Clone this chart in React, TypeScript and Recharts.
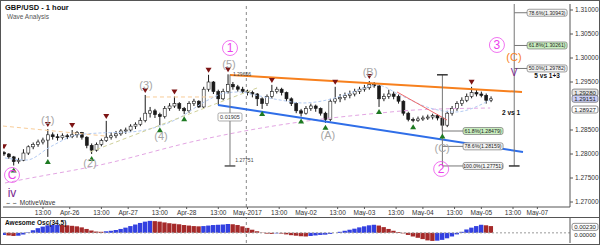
import {
  ComposedChart, Bar, Line, Scatter, XAxis, YAxis, ReferenceLine, ReferenceDot, Cell
} from 'recharts';

const FONT = '"Liberation Sans", Arial, sans-serif';

// hour index: 0 = Apr-26 00:00, weekend hours left out
const X_DOMAIN = [-27.4, 205.4];
const Y_DOMAIN = [1.26896, 1.31125];
const AO_DOMAIN = [-0.0039, 0.0057];

const timeTicks = [-11, 0, 13, 24, 37, 48, 61, 73, 86, 97, 110, 121, 134, 145, 158, 169, 182, 192];
const timeLabels = ['13:00', 'Apr-26', '13:00', 'Apr-27', '13:00', 'Apr-28', '13:00', 'May-2017', '13:00',
  'May-02', '13:00', 'May-03', '13:00', 'May-04', '13:00', 'May-05', '13:00', 'May-07'];
const priceTicks = [1.27, 1.275, 1.28, 1.285, 1.295, 1.3, 1.305, 1.31];

// [hour, open, high, low, close]
const candleRows = [
  [-27, 1.2803, 1.2806, 1.2796, 1.2800], [-25, 1.2800, 1.2802, 1.2790, 1.2794],
  [-23, 1.2794, 1.2796, 1.2776, 1.2784], [-21, 1.2784, 1.2792, 1.2780, 1.2787],
  [-19, 1.2787, 1.2810, 1.2785, 1.2802], [-17, 1.2802, 1.2818, 1.2798, 1.2815],
  [-15, 1.2815, 1.2824, 1.2810, 1.2820], [-13, 1.2820, 1.2830, 1.2815, 1.2825],
  [-11, 1.2825, 1.2834, 1.2820, 1.2829], [-9, 1.2829, 1.2852, 1.2794, 1.2840],
  [-7, 1.2840, 1.2845, 1.2830, 1.2836], [-5, 1.2836, 1.2842, 1.2828, 1.2834],
  [-3, 1.2834, 1.2843, 1.2830, 1.2838], [-1, 1.2838, 1.2842, 1.2831, 1.2836],
  [1, 1.2836, 1.2850, 1.2833, 1.2840], [3, 1.2840, 1.2848, 1.2834, 1.2845],
  [5, 1.2845, 1.2846, 1.2830, 1.2835], [7, 1.2835, 1.2837, 1.2812, 1.2818],
  [9, 1.2818, 1.2822, 1.2800, 1.2808], [11, 1.2808, 1.2824, 1.2805, 1.2820],
  [13, 1.2820, 1.2832, 1.2816, 1.2828], [15, 1.2828, 1.2869, 1.2825, 1.2835],
  [17, 1.2835, 1.2845, 1.2830, 1.2838], [19, 1.2838, 1.2848, 1.2833, 1.2842],
  [21, 1.2842, 1.2852, 1.2838, 1.2848], [23, 1.2848, 1.2855, 1.2842, 1.2850],
  [25, 1.2850, 1.2862, 1.2846, 1.2858], [27, 1.2858, 1.2866, 1.2852, 1.2862],
  [29, 1.2862, 1.2876, 1.2858, 1.2870], [31, 1.2870, 1.2923, 1.2866, 1.2885],
  [33, 1.2885, 1.2898, 1.2876, 1.2890], [35, 1.2890, 1.2894, 1.2875, 1.2882],
  [37, 1.2882, 1.2886, 1.2860, 1.2878], [39, 1.2878, 1.2900, 1.2874, 1.2895],
  [41, 1.2895, 1.2906, 1.2890, 1.2900], [43, 1.2900, 1.2920, 1.2896, 1.2905],
  [45, 1.2905, 1.2908, 1.2890, 1.2895], [47, 1.2895, 1.2898, 1.2883, 1.2890],
  [49, 1.2890, 1.2910, 1.2886, 1.2905], [51, 1.2905, 1.2915, 1.2900, 1.2910],
  [53, 1.2910, 1.2912, 1.2896, 1.2898], [55, 1.2898, 1.2940, 1.2896, 1.2935],
  [57, 1.2935, 1.2965, 1.2930, 1.2950], [59, 1.2950, 1.2952, 1.2925, 1.2930],
  [61, 1.2930, 1.2934, 1.2902, 1.2915], [63, 1.2915, 1.2936, 1.2912, 1.2930],
  [65, 1.2930, 1.2966, 1.2926, 1.2945], [67, 1.2945, 1.2950, 1.2934, 1.2940],
  [69, 1.2940, 1.2944, 1.2930, 1.2935], [71, 1.2935, 1.2940, 1.2926, 1.2930],
  [73, 1.2930, 1.2934, 1.2922, 1.2928], [75, 1.2928, 1.2932, 1.2918, 1.2925],
  [77, 1.2925, 1.2927, 1.2900, 1.2915], [79, 1.2915, 1.2918, 1.2894, 1.2905],
  [81, 1.2905, 1.2924, 1.2900, 1.2920], [83, 1.2920, 1.2944, 1.2915, 1.2930],
  [85, 1.2930, 1.2940, 1.2926, 1.2935], [87, 1.2935, 1.2938, 1.2922, 1.2928],
  [89, 1.2928, 1.2930, 1.2910, 1.2915], [91, 1.2915, 1.2918, 1.2900, 1.2905],
  [93, 1.2905, 1.2908, 1.2885, 1.2890], [95, 1.2890, 1.2894, 1.2878, 1.2885],
  [97, 1.2885, 1.2900, 1.2882, 1.2895], [99, 1.2895, 1.2905, 1.2890, 1.2900],
  [101, 1.2900, 1.2903, 1.2888, 1.2895], [103, 1.2895, 1.2897, 1.2880, 1.2885],
  [105, 1.2885, 1.2888, 1.2865, 1.2872], [107, 1.2872, 1.2915, 1.2868, 1.2910],
  [109, 1.2910, 1.2940, 1.2905, 1.2915], [111, 1.2915, 1.2925, 1.2908, 1.2918],
  [113, 1.2918, 1.2928, 1.2912, 1.2922], [115, 1.2922, 1.2932, 1.2916, 1.2925],
  [117, 1.2925, 1.2936, 1.2920, 1.2930], [119, 1.2930, 1.2940, 1.2925, 1.2935],
  [121, 1.2935, 1.2944, 1.2930, 1.2938], [123, 1.2938, 1.2952, 1.2934, 1.2945],
  [125, 1.2945, 1.2950, 1.2938, 1.2942], [127, 1.2942, 1.2944, 1.2898, 1.2915],
  [129, 1.2915, 1.2926, 1.2910, 1.2920], [131, 1.2920, 1.2934, 1.2915, 1.2925],
  [133, 1.2925, 1.2930, 1.2914, 1.2920], [135, 1.2920, 1.2924, 1.2905, 1.2910],
  [137, 1.2910, 1.2912, 1.2880, 1.2885], [139, 1.2885, 1.2888, 1.2868, 1.2872],
  [141, 1.2872, 1.2876, 1.2866, 1.2870], [143, 1.2870, 1.2878, 1.2867, 1.2873],
  [145, 1.2873, 1.2880, 1.2869, 1.2875], [147, 1.2875, 1.2882, 1.2871, 1.2877],
  [149, 1.2877, 1.2884, 1.2872, 1.2880], [151, 1.2880, 1.2883, 1.2870, 1.2875],
  [153, 1.2875, 1.2878, 1.2847, 1.2860], [155, 1.2860, 1.2890, 1.2856, 1.2885],
  [157, 1.2885, 1.2900, 1.2880, 1.2895], [159, 1.2895, 1.2910, 1.2890, 1.2905],
  [161, 1.2905, 1.2918, 1.2900, 1.2912], [163, 1.2912, 1.2926, 1.2908, 1.2920],
  [165, 1.2920, 1.2940, 1.2916, 1.2928], [167, 1.2928, 1.2934, 1.2920, 1.2925],
  [169, 1.2925, 1.2930, 1.2918, 1.2922], [171, 1.2922, 1.2926, 1.2905, 1.2912],
  [173, 1.2912, 1.2920, 1.2908, 1.2915],
];

// Awesome Oscillator, one value per candle above
const aoValues = [
  -0.0008, -0.0010, -0.0012, -0.0011, -0.0006, 0.0002, 0.0010, 0.0018, 0.0024, 0.0029,
  0.0030, 0.0031, 0.0030, 0.0029, 0.0027, 0.0025, 0.0021, 0.0015, 0.0009, 0.0005,
  0.0004, 0.0006, 0.0008, 0.0011, 0.0015, 0.0020, 0.0026, 0.0032, 0.0038, 0.0043,
  0.0046, 0.0045, 0.0043, 0.0040, 0.0037, 0.0035, 0.0033, 0.0030, 0.0028, 0.0026,
  0.0025, 0.0026, 0.0028, 0.0030, 0.0031, 0.0032, 0.0034, 0.0033, 0.0030, 0.0025,
  0.0019, 0.0012, 0.0006, 0.0001, -0.0003, -0.0004, -0.0002, -0.0003, -0.0006, -0.0009,
  -0.0011, -0.0013, -0.0014, -0.0012, -0.0010, -0.0008, -0.0007, -0.0004, 0.0000, 0.0004,
  0.0008, 0.0012, 0.0016, 0.0021, 0.0025, 0.0029, 0.0031, 0.0028, 0.0022, 0.0015,
  0.0008, 0.0003, -0.0002, -0.0008, -0.0014, -0.0019, -0.0024, -0.0029, -0.0031, -0.0030,
  -0.0027, -0.0021, -0.0014, -0.0006, 0.0004, 0.0013, 0.0020, 0.0026, 0.0031, 0.0029, 0.0026,
];

const peakHours = [-27, -9, 1, 15, 31, 43, 57, 65, 83, 109, 123, 165];
const troughHours = [-23, -9, 9, 37, 47, 79, 95, 105, 127, 141, 153];

// dashed averages
const fastAvg = [
  { t: -26.6, p: 1.27917 }, { t: -17.6, p: 1.27875 }, { t: -8.1, p: 1.28146 }, { t: 3.0, p: 1.28396 },
  { t: 12.4, p: 1.28438 }, { t: 24.7, p: 1.28458 }, { t: 30.9, p: 1.285 }, { t: 43.2, p: 1.28708 },
  { t: 56.8, p: 1.29125 }, { t: 63.7, p: 1.29271 }, { t: 69.9, p: 1.29292 }, { t: 76.1, p: 1.29229 },
  { t: 86.3, p: 1.29125 }, { t: 95.8, p: 1.29063 }, { t: 105.6, p: 1.29125 }, { t: 115.1, p: 1.29271 },
  { t: 126.2, p: 1.29438 }, { t: 135.6, p: 1.29229 }, { t: 147.9, p: 1.28958 }, { t: 158.2, p: 1.28875 },
  { t: 172.6, p: 1.29125 },
];
const slowAvg = [
  { t: -26.6, p: 1.27396 }, { t: -20.4, p: 1.27458 }, { t: 12.4, p: 1.27771 }, { t: 53.5, p: 1.28292 },
  { t: 74.0, p: 1.285 }, { t: 94.5, p: 1.28667 }, { t: 127.4, p: 1.28854 }, { t: 141.8, p: 1.28917 },
  { t: 172.6, p: 1.28958 },
];

// trend and channel lines [[t1, p1], [t2, p2]]
const trendLines = [
  { a: [65.8, 1.29646], b: [185.7, 1.29292], color: '#f7801e', w: 2, dash: undefined },
  { a: [60.9, 1.29021], b: [186.1, 1.28042], color: '#2f6ee8', w: 2, dash: undefined },
  { a: [134.4, 1.29292], b: [154.9, 1.28708], color: '#f06a6a', w: 1, dash: undefined },
  { a: [-27.4, 1.28583], b: [14.5, 1.28375], color: '#f8cc98', w: 1, dash: '4 3' },
  { a: [31.3, 1.29188], b: [59.6, 1.29188], color: '#f8cc98', w: 1, dash: '4 3' },
  { a: [8.3, 1.28042], b: [76.9, 1.29375], color: '#cfd09a', w: 1, dash: '4 3' },
];

const waveLabels = [
  { text: '(1)', t: -9, p: 1.28708, color: '#a6a6a6', size: 11 },
  { text: '(2)', t: 8.3, p: 1.27813, color: '#a6a6a6', size: 11 },
  { text: '(3)', t: 31.3, p: 1.29438, color: '#a6a6a6', size: 11 },
  { text: '(4)', t: 37.5, p: 1.28375, color: '#a6a6a6', size: 11 },
  { text: '(5)', t: 65.4, p: 1.29875, color: '#a6a6a6', size: 11 },
  { text: '(A)', t: 106, p: 1.28396, color: '#a6a6a6', size: 11 },
  { text: '(B)', t: 123.3, p: 1.29708, color: '#a6a6a6', size: 11 },
  { text: '(C)', t: 152.9, p: 1.28125, color: '#a6a6a6', size: 11 },
  { text: '(C)', t: 182.4, p: 1.30021, color: '#f7801e', size: 11 },
  { text: 'V', t: 182.4, p: 1.29708, color: '#7a1f8e', size: 10 },
  { text: 'iv', t: -23.7, p: 1.27188, color: '#7a1f8e', size: 12 },
];
const circledLabels = [
  { text: '1', t: 65.8, p: 1.30208 },
  { text: '2', t: 152.5, p: 1.27688 },
  { text: '3', t: 175.4, p: 1.30271 },
  { text: 'C', t: -23.7, p: 1.27563 },
];

const fibBoxes = [
  { text: '78.6%(1.30943)', t: 196, p: 1.30943, from: 182.5, hi: false },
  { text: '61.8%(1.30261)', t: 196, p: 1.30261, from: 182.5, hi: true },
  { text: '50.0%(1.29782)', t: 196, p: 1.29782, from: 182.5, hi: false },
  { text: '61.8%(1.28479)', t: 169.7, p: 1.28479, from: 153, hi: true },
  { text: '78.6%(1.28159)', t: 169.7, p: 1.28159, from: 153, hi: false },
  { text: '100.0%(1.27751)', t: 169.7, p: 1.27751, from: 153, hi: false },
];
const priceBoxes = [
  { text: '1.29280', p: 1.2928, fill: '#e6e6e6' },
  { text: '1.29151', p: 1.29151, fill: '#c9cdf5' },
  { text: '1.28927', p: 1.28927, fill: '#ffffff' },
];

const Candle = (props: any) => {
  const { x, y, width, height, payload } = props;
  const top = Math.min(y, y + height);
  const bottom = Math.max(y, y + height);
  const span = payload.h - payload.l;
  const py = (v: number) => top + ((payload.h - v) / span) * (bottom - top);
  const cx = x + width / 2;
  const yo = py(payload.o);
  const yc = py(payload.c);
  const up = payload.c >= payload.o;
  return (
    <g>
      <line x1={cx} x2={cx} y1={top} y2={bottom} stroke="#1a1a1a" strokeWidth={1} />
      <rect x={cx - 1.5} y={Math.min(yo, yc)} width={3} height={Math.max(1, Math.abs(yo - yc))}
        fill={up ? '#ffffff' : '#1a1a1a'} stroke="#1a1a1a" strokeWidth={0.6} />
    </g>
  );
};

const DownMark = (p: any) => (
  <path d={`M${p.cx - 3},${p.cy - 7} L${p.cx + 3},${p.cy - 7} L${p.cx},${p.cy - 2} Z`} fill="#7d1414" />
);
const UpMark = (p: any) => (
  <path d={`M${p.cx - 3},${p.cy + 7} L${p.cx + 3},${p.cy + 7} L${p.cx},${p.cy + 2} Z`} fill="#1e7a22" />
);

export default function App() {
  const candles = candleRows.map(([t, o, h, l, c]) => ({ t, o, h, l, c }));
  const peaks = peakHours.map((h) => ({ t: h, p: candles.find((d) => d.t === h)!.h }));
  const troughs = troughHours.map((h) => ({ t: h, p: candles.find((d) => d.t === h)!.l }));
  const ao = candles.map((d, i) => ({ t: d.t, v: aoValues[i] }));

  return (
    <div style={{ position: 'fixed', left: 0, top: 0, width: 600, height: 245, background: '#fff', fontFamily: FONT }}>
      <div style={{ position: 'absolute', left: 0, top: 0 }}>
        <ComposedChart width={600} height={216} data={candles} margin={{ top: 4, right: 0, left: 3, bottom: 0 }}>
          <XAxis dataKey="t" type="number" domain={X_DOMAIN} allowDataOverflow ticks={timeTicks}
            tickFormatter={(v) => timeLabels[timeTicks.indexOf(v)] ?? ''} interval={0} height={9}
            tickSize={2} tickMargin={1} stroke="#555"
            tick={{ fontSize: 6.5, fill: '#333', fontFamily: FONT }} />
          <YAxis orientation="right" type="number" domain={Y_DOMAIN} allowDataOverflow ticks={priceTicks}
            width={30} tickSize={3} tickMargin={2} stroke="#555" tickFormatter={(v) => v.toFixed(5)}
            tick={{ fontSize: 6.5, fill: '#333', fontFamily: FONT }} />

          <ReferenceLine x={72.5} stroke="#888" strokeDasharray="3 3" />

          <Line data={slowAvg} dataKey="p" type="monotone" dot={false} stroke="#e3a6e3" strokeWidth={1}
            strokeDasharray="4 3" isAnimationActive={false} />
          <Line data={fastAvg} dataKey="p" type="monotone" dot={false} stroke="#b3cbf2" strokeWidth={1}
            strokeDasharray="3 2" isAnimationActive={false} />
          {trendLines.map((s, i) => (
            <ReferenceLine key={`tl-${i}`} segment={[{ x: s.a[0], y: s.a[1] }, { x: s.b[0], y: s.b[1] }]}
              stroke={s.color} strokeWidth={s.w} strokeDasharray={s.dash} ifOverflow="visible" />
          ))}

          {/* measurement verticals */}
          <ReferenceLine segment={[{ x: 65.8, y: 1.29656 }, { x: 65.8, y: 1.27751 }]} stroke="#777" ifOverflow="visible" />
          <ReferenceLine segment={[{ x: 63.6, y: 1.27751 }, { x: 68, y: 1.27751 }]} stroke="#555" strokeWidth={1.5} ifOverflow="visible" />
          <ReferenceLine segment={[{ x: 153, y: 1.2965 }, { x: 153, y: 1.27751 }]} stroke="#777" ifOverflow="visible" />
          <ReferenceLine segment={[{ x: 150.8, y: 1.2965 }, { x: 155.2, y: 1.2965 }]} stroke="#333" strokeWidth={1.5} ifOverflow="visible" />
          <ReferenceLine segment={[{ x: 182.5, y: 1.31125 }, { x: 182.5, y: 1.27751 }]} stroke="#777" ifOverflow="visible" />
          <ReferenceLine segment={[{ x: 180.3, y: 1.27751 }, { x: 184.7, y: 1.27751 }]} stroke="#333" strokeWidth={1.5} ifOverflow="visible" />
          {fibBoxes.map((f, i) => (
            <ReferenceLine key={`fc-${i}`} segment={[{ x: f.from, y: f.p }, { x: f.t - 8, y: f.p }]} stroke="#777" ifOverflow="visible" />
          ))}

          <Bar dataKey={(d: any) => [d.l, d.h]} barSize={3} shape={Candle} isAnimationActive={false} />
          <Scatter data={peaks} dataKey="p" shape={DownMark} isAnimationActive={false} />
          <Scatter data={troughs} dataKey="p" shape={UpMark} isAnimationActive={false} />

          <ReferenceDot x={65.8} y={1.28771} r={0} ifOverflow="visible" shape={(p: any) => (
            <g>
              <rect x={p.cx - 12} y={p.cy - 4} width={24} height={8} rx={1.5} fill="#fff" stroke="#888" strokeWidth={0.7} />
              <text x={p.cx} y={p.cy + 2} textAnchor="middle" fontSize={5.5} fill="#333" fontFamily={FONT}>0.01905</text>
            </g>
          )} />
          <ReferenceDot x={68} y={1.2784} r={0} ifOverflow="visible" shape={(p: any) => (
            <text x={p.cx} y={p.cy} fontSize={5} fill="#444" fontFamily={FONT}>1.27751</text>
          )} />
          <ReferenceDot x={67} y={1.29625} r={0} ifOverflow="visible" shape={(p: any) => (
            <text x={p.cx} y={p.cy} fontSize={5} fill="#444" fontFamily={FONT}>1.29656</text>
          )} />

          {fibBoxes.map((f, i) => (
            <ReferenceDot key={`fb-${i}`} x={f.t} y={f.p} r={0} ifOverflow="visible" shape={(p: any) => (
              <g>
                <rect x={p.cx - 20} y={p.cy - 3.5} width={40} height={7} rx={2}
                  fill={f.hi ? '#c9efc0' : '#f4f4f4'} stroke="#777" strokeWidth={0.7} />
                <text x={p.cx} y={p.cy + 2} textAnchor="middle" fontSize={5.2} fill="#222" fontFamily={FONT}>{f.text}</text>
              </g>
            )} />
          ))}
          <ReferenceDot x={177.5} y={1.2882} r={0} ifOverflow="visible" shape={(p: any) => (
            <text x={p.cx} y={p.cy} fontSize={6.5} fontWeight="bold" fill="#111" fontFamily={FONT}>2 vs 1</text>
          )} />
          <ReferenceDot x={196} y={1.29575} r={0} ifOverflow="visible" shape={(p: any) => (
            <text x={p.cx} y={p.cy} fontSize={6.5} fontWeight="bold" fill="#111" fontFamily={FONT} textAnchor="middle">5 vs 1+3</text>
          )} />

          {waveLabels.map((w, i) => (
            <ReferenceDot key={`wl-${i}`} x={w.t} y={w.p} r={0} ifOverflow="visible" shape={(p: any) => (
              <text x={p.cx} y={p.cy} textAnchor="middle" dominantBaseline="central" fontSize={w.size}
                fill={w.color} fontFamily={FONT}>{w.text}</text>
            )} />
          ))}
          {circledLabels.map((w, i) => (
            <ReferenceDot key={`cl-${i}`} x={w.t} y={w.p} r={0} ifOverflow="visible" shape={(p: any) => (
              <g>
                <circle cx={p.cx} cy={p.cy} r={7.5} fill="none" stroke="#ec4fec" strokeWidth={0.8} />
                <text x={p.cx} y={p.cy} textAnchor="middle" dominantBaseline="central" fontSize={12}
                  fill="#ec3fec" fontFamily={FONT}>{w.text}</text>
              </g>
            )} />
          ))}
          {priceBoxes.map((b, i) => (
            <ReferenceDot key={`pb-${i}`} x={X_DOMAIN[1]} y={b.p} r={0} ifOverflow="visible" shape={(p: any) => (
              <g>
                <rect x={p.cx + 2} y={p.cy - 3.5} width={26} height={7} rx={2} fill={b.fill} stroke="#666" strokeWidth={0.7} />
                <text x={p.cx + 15} y={p.cy + 2.2} textAnchor="middle" fontSize={6} fill="#222" fontFamily={FONT}>{b.text}</text>
              </g>
            )} />
          ))}
        </ComposedChart>
      </div>

      <div style={{ position: 'absolute', left: 0, top: 218 }}>
        <ComposedChart width={600} height={25} data={ao} margin={{ top: 0, right: 0, left: 3, bottom: 0 }}>
          <XAxis dataKey="t" type="number" domain={X_DOMAIN} allowDataOverflow hide />
          <YAxis orientation="right" type="number" domain={AO_DOMAIN} allowDataOverflow width={30}
            tick={false} tickLine={false} stroke="#555" />
          <ReferenceLine y={0} stroke="#999" strokeDasharray="2 2" />
          <ReferenceLine x={72.5} stroke="#888" strokeDasharray="3 3" />
          <Bar dataKey="v" barSize={5} isAnimationActive={false}>
            {ao.map((d, i) => (
              <Cell key={`ao-${i}`} fill={i > 0 && d.v < ao[i - 1].v ? '#a52a2a' : '#3340e0'} />
            ))}
          </Bar>
          <ReferenceDot x={X_DOMAIN[1]} y={0.0023} r={0} ifOverflow="visible" shape={(p: any) => (
            <g>
              <rect x={p.cx + 2} y={p.cy - 3.5} width={26} height={7} rx={2} fill="#fff" stroke="#666" strokeWidth={0.7} />
              <text x={p.cx + 15} y={p.cy + 2.2} textAnchor="middle" fontSize={6} fill="#222" fontFamily={FONT}>0.00230</text>
            </g>
          )} />
          <ReferenceDot x={X_DOMAIN[1]} y={0} r={0} ifOverflow="visible" shape={(p: any) => (
            <text x={p.cx + 15} y={p.cy + 4} textAnchor="middle" fontSize={6} fill="#222" fontFamily={FONT}>0.00000</text>
          )} />
        </ComposedChart>
      </div>

      <div style={{ position: 'absolute', left: 5, top: 3, fontSize: 7.5, fontWeight: 'bold', color: '#111' }}>GBP/USD - 1 hour</div>
      <div style={{ position: 'absolute', left: 7, top: 13, fontSize: 6.5, color: '#555' }}>Wave Analysis</div>
      <div style={{ position: 'absolute', left: 5, top: 199, fontSize: 6.5, color: '#333' }}>⇔⇔ MotiveWave</div>
      <div style={{ position: 'absolute', left: 5, top: 219, fontSize: 6.5, fontWeight: 'bold', color: '#111' }}>Awesome Osc(34,5)</div>

      <div style={{ position: 'absolute', left: 0, top: 217, width: 600, height: 1, background: '#555' }} />
      <div style={{ position: 'absolute', left: 0, top: 0, width: 598, height: 243, border: '1px solid #555', pointerEvents: 'none' }} />
    </div>
  );
}
